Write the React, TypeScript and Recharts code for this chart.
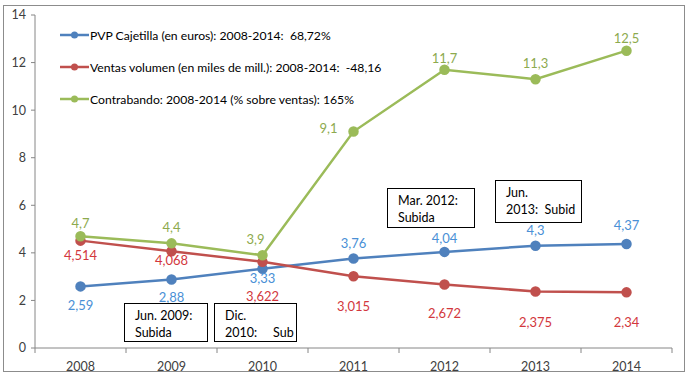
import { LineChart, Line, XAxis, YAxis, LabelList } from "recharts"

const years = ["2008", "2009", "2010", "2011", "2012", "2013", "2014"]
const pvp = [2.59, 2.88, 3.33, 3.76, 4.04, 4.3, 4.37]
const ventas = [4.514, 4.068, 3.622, 3.015, 2.672, 2.375, 2.34]
const contrabando = [4.7, 4.4, 3.9, 9.1, 11.7, 11.3, 12.5]
const yTicks = [0, 2, 4, 6, 8, 10, 12, 14]

const legendNames = [
  "PVP Cajetilla (en euros): 2008-2014:  68,72%",
  "Ventas volumen (en miles de mill.): 2008-2014:  -48,16",
  "Contrabando: 2008-2014 (% sobre ventas): 165%",
]

// label offsets (dx, dy) per point, relative to the marker
const pvpOffsets = [[0, 19], [0, 18], [0, 9], [0, -16], [0, -14], [0, -16], [0, -19]]
const ventasOffsets = [[0, 14], [0, 9], [0, 34], [0, 30], [0, 29], [0, 30], [0, 30]]
const contraOffsets = [[0, -13], [0, -16], [-7, -16], [-25, -4], [0, -12], [0, -16], [0, -13]]

const W = 694
const H = 383
const PLOT_LEFT = 35
const PLOT_RIGHT = 672
const HALF_BAND = (PLOT_RIGHT - PLOT_LEFT) / years.length / 2

const BLUE = "#4F81BD"
const RED = "#C0504D"
const GREEN = "#9BBB59"
const FONT = "Lato, 'Open Sans', sans-serif"

const data = years.map((year, i) => ({
  year,
  pvp: pvp[i],
  ventas: ventas[i],
  contrabando: contrabando[i],
}))

const fmt = (v: number) => String(v).replace(".", ",")

function makeLabel(offsets: number[][], color: string) {
  return (props: any) => {
    const { x, y, value, index } = props
    const [dx, dy] = offsets[index] || [0, 0]
    return (
      <text
        x={x + dx}
        y={y + dy}
        textAnchor="middle"
        dominantBaseline="central"
        fill={color}
        fontSize={13}
        fontFamily={FONT}
      >
        {fmt(value)}
      </text>
    )
  }
}

const XTick = (props: any) => {
  const { x, y, payload, index } = props
  const axisY = y - 7
  return (
    <g>
      <line x1={x - HALF_BAND} y1={axisY} x2={x - HALF_BAND} y2={axisY + 5} stroke="#868686" />
      {index === years.length - 1 && (
        <line x1={x + HALF_BAND} y1={axisY} x2={x + HALF_BAND} y2={axisY + 5} stroke="#868686" />
      )}
      <text x={x} y={axisY + 18} textAnchor="middle" dominantBaseline="central" fill="#404040" fontSize={12.5} fontFamily={FONT}>
        {payload.value}
      </text>
    </g>
  )
}

const boxStyle: React.CSSProperties = {
  position: "absolute",
  border: "1px solid #000",
  background: "#fff",
  fontSize: 12.5,
  lineHeight: "17px",
  color: "#000",
  boxSizing: "border-box",
  padding: "3px 0 0 10px",
  overflow: "hidden",
  whiteSpace: "pre",
}

export default function App() {
  const colors = [BLUE, RED, GREEN]
  return (
    <div style={{ position: "absolute", left: 0, top: 0, width: W, height: H, background: "#fff", fontFamily: FONT }}>
      <div style={{ position: "absolute", left: 3, top: 5, width: 682, height: 367, border: "1px solid #8c8c8c", boxSizing: "border-box" }} />
      <LineChart width={W} height={H} data={data} margin={{ top: 15, right: W - PLOT_RIGHT, bottom: 10, left: 5 }}>
        <XAxis
          dataKey="year"
          padding={{ left: HALF_BAND, right: HALF_BAND }}
          axisLine={{ stroke: "#868686" }}
          tickLine={false}
          tickSize={5}
          tickMargin={2}
          height={25}
          interval={0}
          tick={<XTick />}
        />
        <YAxis
          domain={[0, 14]}
          ticks={yTicks}
          width={30}
          axisLine={{ stroke: "#868686" }}
          tickLine={{ stroke: "#868686" }}
          tickSize={4}
          tickMargin={5}
          tick={{ fill: "#404040", fontSize: 12.5, fontFamily: FONT }}
        />
        <Line dataKey="pvp" stroke={BLUE} strokeWidth={2.5} dot={{ r: 4, fill: BLUE, stroke: BLUE }} isAnimationActive={false}>
          <LabelList dataKey="pvp" content={makeLabel(pvpOffsets, "#4A90D6")} />
        </Line>
        <Line dataKey="ventas" stroke={RED} strokeWidth={2.5} dot={{ r: 4, fill: RED, stroke: RED }} isAnimationActive={false}>
          <LabelList dataKey="ventas" content={makeLabel(ventasOffsets, "#D2373D")} />
        </Line>
        <Line dataKey="contrabando" stroke={GREEN} strokeWidth={2.5} dot={{ r: 4, fill: GREEN, stroke: GREEN }} isAnimationActive={false}>
          <LabelList dataKey="contrabando" content={makeLabel(contraOffsets, "#8DAA4E")} />
        </Line>
      </LineChart>

      {legendNames.map((name, i) => (
        <div key={name} style={{ position: "absolute", left: 60, top: 35 + i * 32 - 9, height: 18, display: "flex", alignItems: "center", fontSize: 12.2, color: "#000", whiteSpace: "pre" }}>
          <svg width={29} height={10} style={{ marginRight: 1 }}>
            <line x1={0} y1={5} x2={29} y2={5} stroke={colors[i]} strokeWidth={2.5} />
            <circle cx={14.5} cy={5} r={3.5} fill={colors[i]} />
          </svg>
          {name}
        </div>
      ))}

      <div style={{ ...boxStyle, left: 124, top: 303, width: 84, height: 39 }}>{"Jun. 2009:\nSubida"}</div>
      <div style={{ ...boxStyle, left: 214, top: 303, width: 83, height: 39 }}>{"Dic.\n2010:     Sub"}</div>
      <div style={{ ...boxStyle, left: 387, top: 188, width: 88, height: 40 }}>{"Mar. 2012:\nSubida"}</div>
      <div style={{ ...boxStyle, left: 495, top: 180, width: 87, height: 43 }}>{"Jun.\n2013:  Subid"}</div>
    </div>
  )
}
